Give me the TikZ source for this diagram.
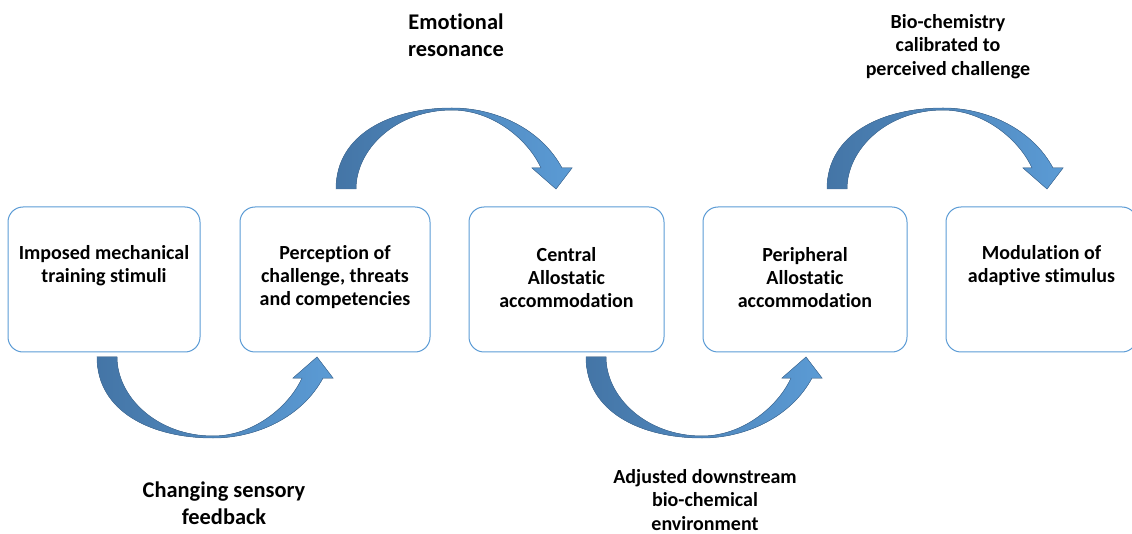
\documentclass[tikz,border=0pt]{standalone}
\usepackage{fontspec}
\setmainfont{Carlito}[Ligatures=NoCommon]
\usetikzlibrary{positioning}
\definecolor{boxblue}{RGB}{91,155,213}
\definecolor{tailblue}{RGB}{68,117,166}
\definecolor{headblue}{RGB}{91,155,213}
\definecolor{edgeblue}{RGB}{70,115,160}

\begin{document}
\begin{tikzpicture}[x=1pt,y=-1pt,
  box/.style={draw=boxblue, line width=1pt, rounded corners=15pt, minimum height=145pt, inner sep=0pt},
  boxtext/.style={font=\fontsize{20}{23}\selectfont\bfseries, align=center, anchor=base, inner sep=0pt},
  bigtext/.style={font=\fontsize{22.4}{27}\selectfont\bfseries, align=center, anchor=base, inner sep=0pt},
  smalltext/.style={font=\fontsize{20}{23.5}\selectfont\bfseries, align=center, anchor=base, inner sep=0pt},
  bentarrow/.style={draw=edgeblue, line width=0.5pt, left color=tailblue, right color=headblue}]
\useasboundingbox (0,0) rectangle (1132,534);

% boxes
\node[box, minimum width=192pt] (imposed) at (104,279.5) {};
\node[box, minimum width=190pt] (perception) at (335,279.5) {};
\node[box, minimum width=195pt] (central) at (566.5,279.5) {};
\node[box, minimum width=204pt] (peripheral) at (805,279.5) {};
\node[box, minimum width=191pt] (modulation) at (1041.5,279.5) {};

% box texts (anchored at the baseline of the last line)
\node[boxtext] (imposedtxt) at (104,283) {Imposed mechanical\\training stimuli};
\node[boxtext] (perceptiontxt) at (335,305.5) {Perception of\\challenge, threats\\and competencies};
\node[boxtext] (centraltxt) at (566.5,307.5) {Central\\Allostatic\\accommodation};
\node[boxtext] (peripheraltxt) at (805,307.5) {Peripheral\\Allostatic\\accommodation};
\node[boxtext] (modulationtxt) at (1041.5,283) {Modulation of\\adaptive stimulus};

% bent arrows
\foreach \ox/\oy/\fl in {97/357/1, 586/357/1, 336/189/-1, 827/189/-1}
  \filldraw[bentarrow, shift={(\ox,\oy)}, yscale=\fl] (0,0) .. controls (0,55) and (55,81) .. (116,81)
    .. controls (160,81) and (205,60) .. (226,21) -- (236,21) -- (220,0) -- (196,21) -- (205,21)
    .. controls (193,48) and (158,79) .. (116,79) .. controls (60,79) and (20,40) .. (20,0) -- cycle;

% labels
\node[bigtext] (emotional) at (456,56.5) {Emotional\\resonance};
\node[smalltext] (biochem) at (948,75.5) {Bio-chemistry\\calibrated to\\perceived challenge};
\node[bigtext] (sensory) at (224,524.5) {Changing sensory\\feedback};
\node[smalltext] (downstream) at (705,530) {Adjusted downstream\\bio-chemical\\environment};

\end{tikzpicture}
\end{document}
